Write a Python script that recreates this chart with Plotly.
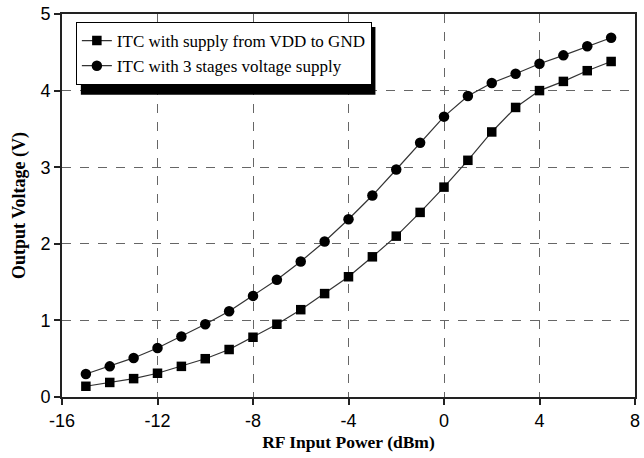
import plotly.graph_objects as go

rf_power = [-15, -14, -13, -12, -11, -10, -9, -8, -7, -6, -5, -4, -3, -2, -1, 0, 1, 2, 3, 4, 5, 6, 7]
vdd_gnd = [0.14, 0.19, 0.24, 0.31, 0.40, 0.50, 0.62, 0.78, 0.95, 1.14, 1.35, 1.57, 1.83, 2.10, 2.41, 2.74,
           3.09, 3.46, 3.78, 4.00, 4.12, 4.26, 4.38]
three_stage = [0.30, 0.40, 0.51, 0.64, 0.79, 0.95, 1.12, 1.32, 1.53, 1.77, 2.03, 2.32, 2.63, 2.97, 3.32, 3.66,
               3.93, 4.10, 4.22, 4.35, 4.46, 4.58, 4.69]
x_ticks = [-16, -12, -8, -4, 0, 4, 8]
y_ticks = [0, 1, 2, 3, 4, 5]

SERIF = "Liberation Serif"

fig = go.Figure()
fig.add_trace(go.Scatter(
    x=rf_power, y=vdd_gnd, mode="lines+markers",
    name="ITC with supply from VDD to GND",
    line=dict(color="#333333", width=1.2),
    marker=dict(symbol="square", size=9.5, color="black"),
))
fig.add_trace(go.Scatter(
    x=rf_power, y=three_stage, mode="lines+markers",
    name="ITC with 3 stages voltage supply",
    line=dict(color="#333333", width=1.2),
    marker=dict(symbol="circle", size=10.5, color="black"),
))

# legend drop shadow
fig.add_shape(type="rect", xref="paper", yref="paper",
              x0=0.0329, x1=0.547, y0=0.789, y1=0.966,
              fillcolor="black", line=dict(width=0), layer="above")

fig.update_layout(
    width=644, height=458,
    margin=dict(l=62, r=4, t=10, b=61),
    paper_bgcolor="white", plot_bgcolor="white",
    font=dict(family="Liberation Sans", size=18, color="black"),
    showlegend=True,
    legend=dict(
        x=0.0242, y=0.979, xanchor="left", yanchor="top",
        bgcolor="white", bordercolor="black", borderwidth=1,
        font=dict(family=SERIF, size=17, color="black"),
        itemwidth=30, tracegroupgap=0,
    ),
    xaxis=dict(
        range=[-16, 8], tickvals=x_ticks, ticktext=[str(v) for v in x_ticks],
        showgrid=True, gridcolor="#666666", griddash="dash", gridwidth=1,
        showline=True, linecolor="#222222", linewidth=2, mirror=True,
        ticks="outside", ticklen=6, tickwidth=1.5, tickcolor="#222222",
        zeroline=False,
        title=dict(text="<b>RF Input Power (dBm)</b>", standoff=6,
                   font=dict(family=SERIF, size=17.5)),
    ),
    yaxis=dict(
        range=[0, 5], tickvals=y_ticks, ticktext=[str(v) for v in y_ticks],
        showgrid=True, gridcolor="#666666", griddash="dash", gridwidth=1,
        showline=True, linecolor="#222222", linewidth=2, mirror=True,
        ticks="outside", ticklen=6, tickwidth=1.5, tickcolor="#222222",
        zeroline=False,
        title=dict(text="<b>Output Voltage (V)</b>", standoff=10,
                   font=dict(family=SERIF, size=18)),
    ),
)

fig.write_html("out.html")
